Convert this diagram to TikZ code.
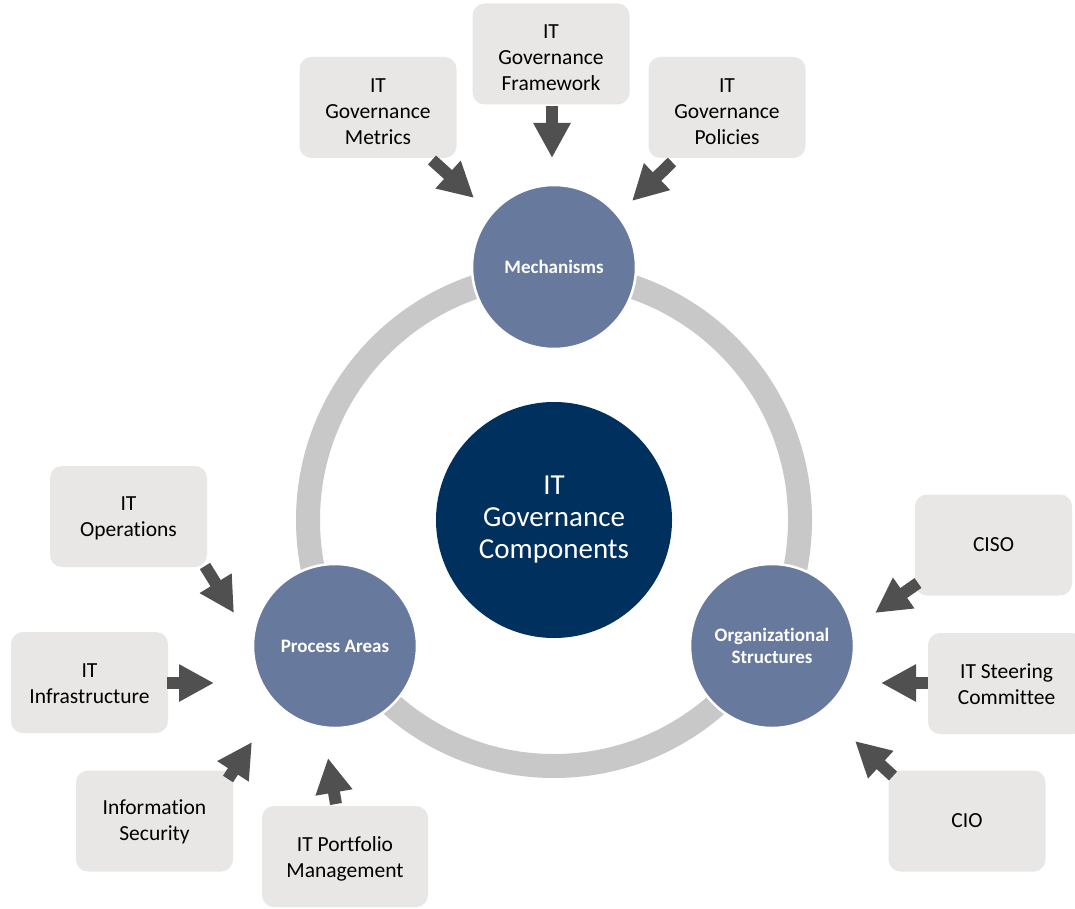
\documentclass[tikz,border=0pt]{standalone}
\usepackage{fontspec}
\setmainfont{Carlito}[Ligatures=NoCommon]
\usetikzlibrary{arrows.meta}
\definecolor{ringgray}{HTML}{C8C8C8}
\definecolor{smallblue}{HTML}{68799E}
\definecolor{navy}{HTML}{00305E}
\definecolor{boxgray}{HTML}{E8E7E6}
\definecolor{arrowgray}{HTML}{505050}
\newcommand{\tstr}[1]{\rule{0pt}{#1}}
\begin{document}
\begin{tikzpicture}[x=1pt,y=-1pt,
  box/.style={fill=boxgray, rounded corners=12pt, minimum width=157pt, minimum height=101pt,
    inner sep=0pt, align=center, font=\fontsize{21.5}{26}\selectfont, text=black},
  subcircle/.style={circle, fill=smallblue, draw=white, line width=2.5pt, minimum size=164pt,
    inner sep=0pt, text=white, font=\bfseries\fontsize{19}{22}\selectfont, align=center},
  core/.style={circle, fill=navy, minimum size=236pt, inner sep=0pt, text=white,
    font=\fontsize{29}{32}\selectfont, align=center},
  blockarrow/.style={draw=arrowgray, line width=12pt, line cap=butt,
    -{Triangle[length=35pt,width=35pt]}},
  ring/.style={draw=ringgray, line width=24pt}
]
\clip (0,0) rectangle (1075,909);
\fill[white] (0,0) rectangle (1075,909);

% ring and circles
\coordinate (ctr) at (554,520);
\draw[ring] (ctr) circle[radius=246pt];
\node[core] (core) at (554,520) {IT\\Governance\\Components};
\node[subcircle] (mech) at (554,267) {Mechanisms};
\node[subcircle] (proc) at (335,646) {Process Areas};
\node[subcircle] (org) at (772,646) {Organizational\\Structures};

% boxes
\node[box] (metrics) at (378,107.5) {\tstr{22pt}IT\\Governance\\Metrics};
\node[box] (framework) at (551,54) {\tstr{22pt}IT\\Governance\\Framework};
\node[box] (policies) at (727,107.5) {\tstr{22pt}IT\\Governance\\Policies};
\node[box] (ops) at (128.5,516.5) {\tstr{17pt}IT\\Operations};
\node[box] (infra) at (89.5,682.5) {\tstr{17pt}IT\\Infrastructure};
\node[box] (infosec) at (154.5,821) {\tstr{17pt}Information\\Security};
\node[box, minimum width=166pt] (portfolio) at (345,856.5) {\tstr{19pt}IT Portfolio\\Management};
\node[box] (ciso) at (993.5,545) {CISO};
\node[box] (steering) at (1006.5,683.5) {\tstr{17pt}IT Steering\\Committee};
\node[box] (cio) at (967,821) {CIO};

% arrow end points
\coordinate (a1s) at (432,160); \coordinate (a1e) at (474,198);
\coordinate (a2s) at (552,106); \coordinate (a2e) at (552,158);
\coordinate (a3s) at (672,162); \coordinate (a3e) at (632,201);
\coordinate (a4s) at (205,566); \coordinate (a4e) at (234,613);
\coordinate (a5s) at (167,683); \coordinate (a5e) at (214,683);
\coordinate (a6s) at (228,779); \coordinate (a6e) at (252,742);
\coordinate (a7s) at (336,804); \coordinate (a7e) at (328,758);
\coordinate (a8s) at (918,583); \coordinate (a8e) at (875,613);
\coordinate (a9s) at (928,683); \coordinate (a9e) at (881,683);
\coordinate (a10s) at (893,776); \coordinate (a10e) at (855,741);

\foreach \i in {1,...,10} {\draw[blockarrow] (a\i s) -- (a\i e);}
\end{tikzpicture}
\end{document}
